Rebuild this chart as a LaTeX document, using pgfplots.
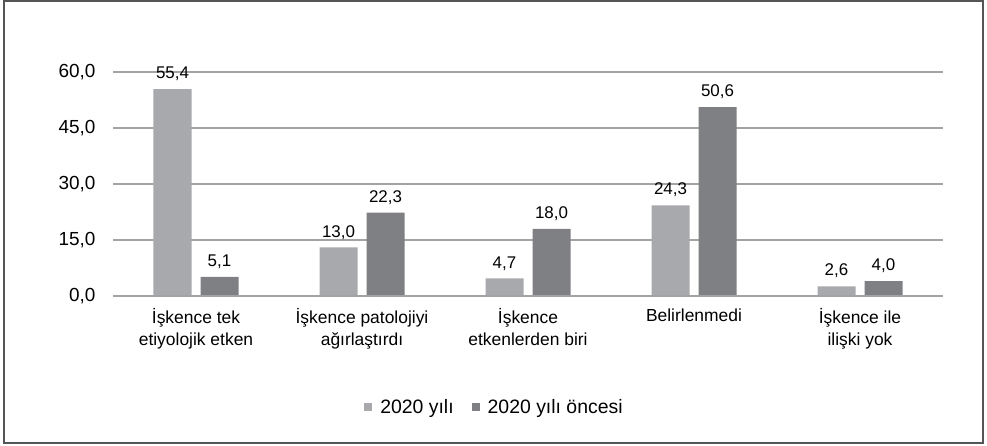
\documentclass[border=0pt]{standalone}
\usepackage{fontspec}
\setmainfont{Liberation Sans}
\usepackage{pgfplots}
\pgfplotsset{compat=1.18}

\definecolor{barlight}{HTML}{A7A9AC}
\definecolor{bardark}{HTML}{7F8083}
\definecolor{gridgrey}{HTML}{A3A3A3}
\definecolor{framegrey}{HTML}{555555}

\begin{document}
\begin{tikzpicture}[x=1bp,y=1bp]
\begin{axis}[
  at={(0,0)}, anchor=south west,
  scale only axis,
  width=830bp, height=224bp,
  ybar=9bp, bar width=38bp,
  xmin=-0.5, xmax=4.5,
  ymin=0, ymax=60,
  ytick={0,15,30,45,60},
  xtick={0,1,2,3,4},
  xticklabels={{İşkence tek\\etiyolojik etken},
               {İşkence patolojiyi\\ağırlaştırdı},
               {İşkence\\etkenlerden biri},
               {Belirlenmedi},
               {İşkence ile\\ilişki yok}},
  xticklabel style={align=center, font=\fontsize{17.5}{22}\selectfont, yshift=-9bp, anchor=north},
  yticklabel style={font=\fontsize{19}{22}\selectfont, anchor=east, xshift=-14bp},
  major tick length=0pt,
  axis line style={draw=none},
  ymajorgrids, grid style={gridgrey, line width=1.2bp},
  yticklabel={\pgfmathprintnumber[fixed, fixed zerofill, precision=1, use comma, assume math mode=true]{\tick}},
  nodes near coords={\pgfmathprintnumber[fixed, fixed zerofill, precision=1, use comma, assume math mode=true]{\pgfplotspointmeta}},
  nodes near coords style={font=\fontsize{17}{20}\selectfont, anchor=south, inner sep=2bp, yshift=6bp},
  legend style={at={(0.4596,-0.4955)}, anchor=center, draw=none, fill=none,
    font=\fontsize{19.5}{22}\selectfont, legend columns=2,
    /tikz/every odd column/.append style={column sep=6bp},
    /tikz/every even column/.append style={column sep=16bp}},
  legend image code/.code={\fill[#1] (0bp,-4bp) rectangle (8bp,4bp);},
]
\addplot[fill=barlight, draw=none] coordinates {(0,55.4) (1,13.0) (2,4.7) (3,24.3) (4,2.6)};
\addplot[fill=bardark, draw=none] coordinates {(0,5.1) (1,22.3) (2,18.0) (3,50.6) (4,4.0)};
\draw[gridgrey, line width=1.2bp] (axis cs:-0.5,0) -- (axis cs:4.5,0);
\legend{2020 yılı, 2020 yılı öncesi}
\end{axis}
\draw[framegrey, line width=2bp] (-108.5,-147) rectangle (870,295);
\path[use as bounding box] (-113,-150) rectangle (874,296);
\end{tikzpicture}
\end{document}
